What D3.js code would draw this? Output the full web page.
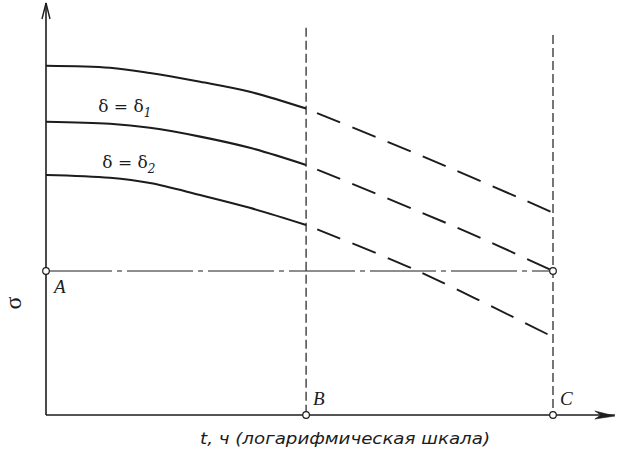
<!DOCTYPE html>
<html>
<head>
<meta charset="utf-8">
<script src="https://cdn.jsdelivr.net/npm/d3@7"></script>
<style>
  html, body { margin: 0; padding: 0; background: #fff; }
  svg { display: block; }
</style>
</head>
<body>
<svg id="chart" width="623" height="453"></svg>
<script>
// ---- data (abstract units: x = log t, 0..100 up to point C; y = stress, 0..100) ----
const solidX = [0, 12.6, 20.5, 30.4, 40.2, 51.3];
const curve1Solid = [87.3, 86.8, 85.5, 83.3, 80.8, 76.6];
const curve2Solid = [73.3, 72.8, 71.8, 69.6, 66.8, 62.5];
const curve3Solid = [60.0, 59.3, 58.0, 55.0, 51.8, 47.5];

const curve1DashX = [51.3, 75.7, 100];
const curve1Dash = [76.6, 63.9, 50.6];
const curve2DashX = [51.3, 83.0, 100];
const curve2Dash = [62.5, 45.8, 36.0];
const curve3DashX = [51.3, 72.8, 100];
const curve3Dash = [47.5, 36.3, 19.5];

const levelA = 36.0;           // ordinate of point A
const pointB = 51.3;           // abscissa of point B
const pointC = 100;            // abscissa of point C
const guideTopB = 96.8;
const guideTopC = 95.0;
const xAxisEnd = 112.2;
const yAxisEnd = 103;

const curveLabels = ["δ = δ", "δ = δ"];
const curveLabelSubs = ["1", "2"];
const pointLabels = ["A", "B", "C"];
const yLabel = "σ";
const xLabel = "t, ч (логарифмическая шкала)";

// ---- scales ----
const x = d3.scaleLinear().domain([0, 100]).range([46, 553]);
const y = d3.scaleLinear().domain([0, 100]).range([415, 15]);

const svg = d3.select("#chart");
const ink = "#1c1c1c";

const line = d3.line().x(d => x(d[0])).y(d => y(d[1])).curve(d3.curveCatmullRom.alpha(0.5));
const zip = (xs, ys) => xs.map((v, i) => [v, ys[i]]);

// guides: dash-dot horizontal at A level
svg.append("line")
  .attr("x1", x(0)).attr("x2", x(pointC))
  .attr("y1", y(levelA)).attr("y2", y(levelA))
  .attr("stroke", ink).attr("stroke-width", 1)
  .attr("stroke-dasharray", "66,5,5,5");

// vertical dashed guides at B and C
[[pointB, guideTopB], [pointC, guideTopC]].forEach(([px, top]) => {
  svg.append("line")
    .attr("x1", x(px)).attr("x2", x(px))
    .attr("y1", y(top)).attr("y2", y(0))
    .attr("stroke", ink).attr("stroke-width", 1.2)
    .attr("stroke-dasharray", "9,4");
});

// axes
svg.append("line")
  .attr("x1", x(0)).attr("x2", x(0))
  .attr("y1", y(0)).attr("y2", y(yAxisEnd))
  .attr("stroke", ink).attr("stroke-width", 1.6);
svg.append("path")
  .attr("d", `M${x(0) - 4},${y(yAxisEnd) + 16} L${x(0)},${y(yAxisEnd)} L${x(0) + 4},${y(yAxisEnd) + 16}`)
  .attr("fill", "none").attr("stroke", ink).attr("stroke-width", 1.4);

svg.append("line")
  .attr("x1", x(0)).attr("x2", x(xAxisEnd))
  .attr("y1", y(0)).attr("y2", y(0))
  .attr("stroke", ink).attr("stroke-width", 1.6);
svg.append("path")
  .attr("d", `M${x(xAxisEnd) - 20},${y(0) - 4} L${x(xAxisEnd)},${y(0) + 1} L${x(xAxisEnd) - 20},${y(0) + 4} L${x(xAxisEnd) - 14},${y(0)} Z`)
  .attr("fill", ink).attr("stroke", ink).attr("stroke-width", 0.6);

// solid curves
[curve1Solid, curve2Solid, curve3Solid].forEach(vals => {
  svg.append("path")
    .attr("d", line(zip(solidX, vals)))
    .attr("fill", "none").attr("stroke", ink).attr("stroke-width", 2.1);
});

// dashed extrapolations
[[curve1DashX, curve1Dash], [curve2DashX, curve2Dash], [curve3DashX, curve3Dash]].forEach(([xs, ys]) => {
  svg.append("path")
    .attr("d", line(zip(xs, ys)))
    .attr("fill", "none").attr("stroke", ink).attr("stroke-width", 1.9)
    .attr("stroke-dasharray", "25,13").attr("stroke-dashoffset", -12);
});

// open circles
[[0, levelA], [pointB, 0], [pointC, 0], [pointC, levelA]].forEach(([px, py]) => {
  svg.append("circle")
    .attr("cx", x(px)).attr("cy", y(py)).attr("r", 3.3)
    .attr("fill", "#fff").attr("stroke", ink).attr("stroke-width", 1.2);
});

// curve labels
const labelFont = "'DejaVu Serif', 'Liberation Serif', serif";
[[curve1Solid, 0], [curve2Solid, 1]].forEach(([vals, i]) => {
  const t = svg.append("text")
    .attr("x", x(i === 0 ? 10.3 : 11.1))
    .attr("y", y(vals[2]) + (i === 0 ? 39 : 40))
    .attr("font-family", labelFont)
    .attr("font-size", 17)
    .attr("fill", ink);
  t.append("tspan").text(curveLabels[i]);
  t.append("tspan").attr("dy", 5).attr("font-size", 12).attr("font-style", "italic").text(curveLabelSubs[i]);
});

// point labels
const letterFont = "'Liberation Serif', 'DejaVu Serif', serif";
[[0, levelA, 8, 22], [pointB, 0, 7, -10], [pointC, 0, 7, -10]].forEach(([px, py, dx, dy], i) => {
  svg.append("text")
    .attr("x", x(px) + dx).attr("y", y(py) + dy)
    .attr("font-family", letterFont).attr("font-style", "italic")
    .attr("font-size", 19).attr("fill", ink)
    .text(pointLabels[i]);
});

// y label (rotated sigma)
svg.append("text")
  .attr("transform", `translate(21,303) rotate(-90)`)
  .attr("text-anchor", "middle")
  .attr("font-family", letterFont).attr("font-size", 24).attr("fill", ink)
  .text(yLabel);

// x label
svg.append("text")
  .attr("x", 200).attr("y", 444)
  .attr("textLength", 290).attr("lengthAdjust", "spacingAndGlyphs")
  .attr("font-family", "'DejaVu Sans', sans-serif").attr("font-style", "italic")
  .attr("font-size", 15).attr("fill", ink)
  .text(xLabel);
</script>
</body>
</html>
